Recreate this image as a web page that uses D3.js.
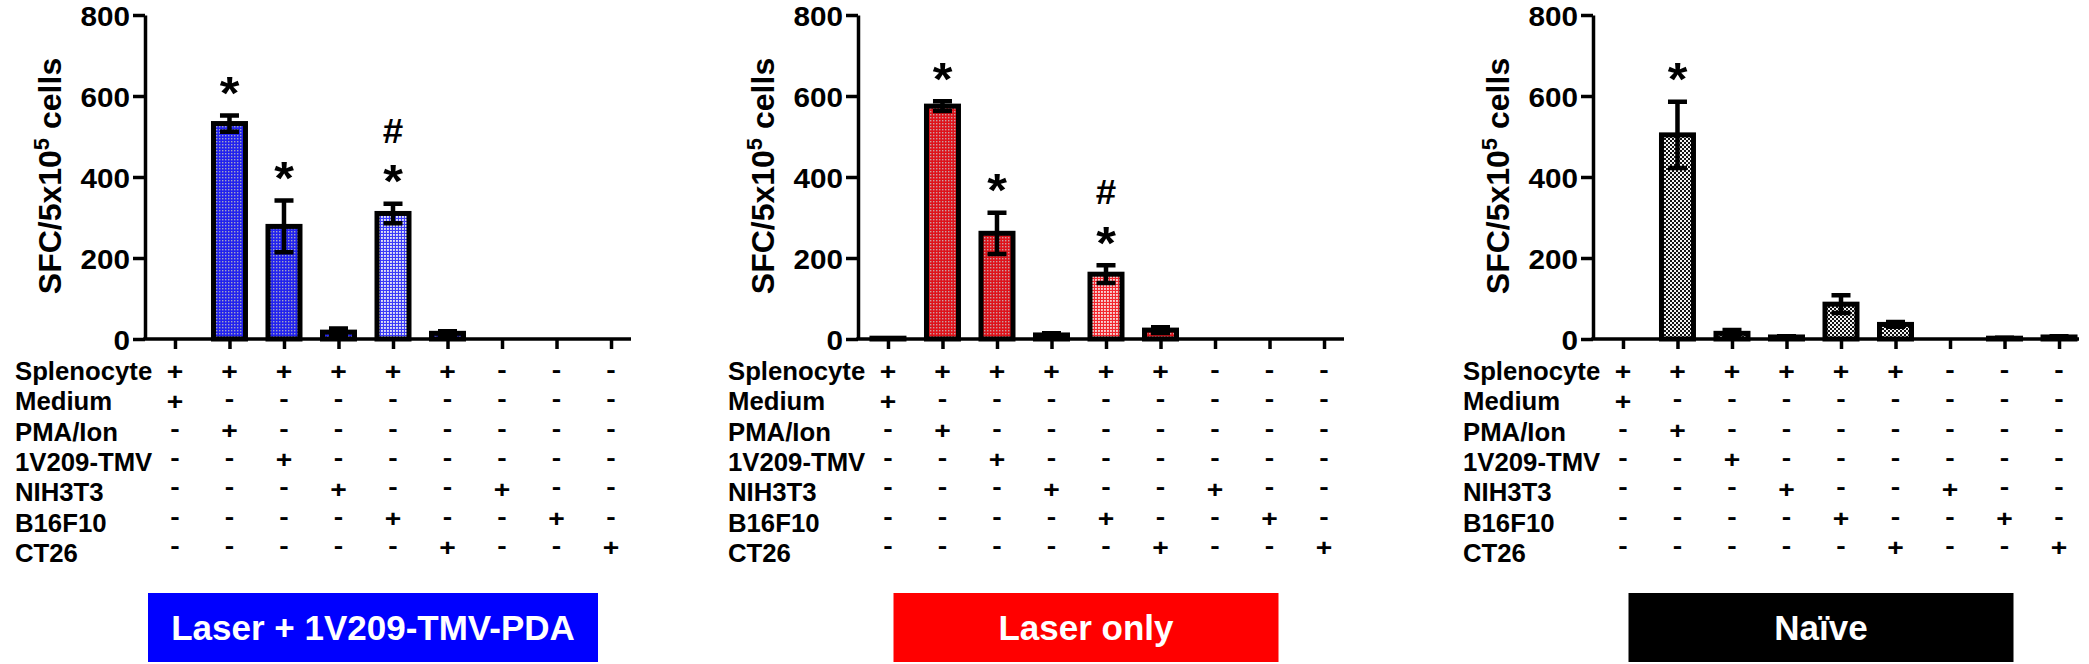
<!DOCTYPE html>
<html>
<head>
<meta charset="utf-8">
<script src="https://cdn.jsdelivr.net/npm/d3@7"></script>
<style>
  html, body { margin: 0; padding: 0; background: #ffffff; }
  svg { display: block; }
</style>
</head>
<body>
<svg id="chart" width="2089" height="664"></svg>
<script>
// ================= DATA =================
const categories = ["Medium", "PMA/Ion", "1V209-TMV", "NIH3T3", "B16F10", "CT26",
                    "NIH3T3 alone", "B16F10 alone", "CT26 alone"];

const groups = ["Laser + 1V209-TMV-PDA", "Laser only", "Na\u00efve"];

const yTicks = [0, 200, 400, 600, 800];

// SFC / 5x10^5 cells (mean) and error (SEM)
const valuesLaserPDA = [0, 532, 278, 17, 310, 14, 0, 0, 0];
const errorsLaserPDA = [0, 20, 64, 9, 24, 5, 0, 0, 0];
const sigLaserPDA    = ["", "*", "*", "", "#*", "", "", "", ""];

const valuesLaserOnly = [2, 575, 261, 10, 160, 22, 0, 0, 0];
const errorsLaserOnly = [0, 12, 51, 4, 22, 7, 0, 0, 0];
const sigLaserOnly    = ["", "*", "*", "", "#*", "", "", "", ""];

const valuesNaive = [0, 504, 14, 5, 86, 36, 0, 2, 5];
const errorsNaive = [0, 82, 8, 2, 22, 6, 0, 1, 2];
const sigNaive    = ["", "*", "", "", "", "", "", "", ""];

const rowLabels = ["Splenocyte", "Medium", "PMA/Ion", "1V209-TMV", "NIH3T3", "B16F10", "CT26"];
const rowSigns = [
  ["+", "+", "+", "+", "+", "+", "-", "-", "-"],
  ["+", "-", "-", "-", "-", "-", "-", "-", "-"],
  ["-", "+", "-", "-", "-", "-", "-", "-", "-"],
  ["-", "-", "+", "-", "-", "-", "-", "-", "-"],
  ["-", "-", "-", "+", "-", "-", "+", "-", "-"],
  ["-", "-", "-", "-", "+", "-", "-", "+", "-"],
  ["-", "-", "-", "-", "-", "+", "-", "-", "+"]
];

// ================= LAYOUT / STYLE =================
const FONT = "'Liberation Sans', Arial, Helvetica, sans-serif";
const panelX = [145, 858, 1593];     // y-axis position of each panel
const PW = 496;                      // x-axis length
const Y_ZERO = 339, Y_TOP = 15;
const BAR_W = 32, BAR_STROKE = 5;
const CAP_W = 19;
const boxColors = ["#0000ff", "#ff0000", "#000000"];
const boxWidths = [450, 385, 385];
const lightIndex = 4; // B16F10 column drawn with lighter pattern

const svg = d3.select("#chart");
svg.append("rect").attr("width", 2089).attr("height", 664).attr("fill", "#fff");
const defs = svg.append("defs");

function makePattern(id, tile, base, dot, rects) {
  const p = defs.append("pattern").attr("id", id)
    .attr("patternUnits", "userSpaceOnUse").attr("width", tile).attr("height", tile);
  p.append("rect").attr("width", tile).attr("height", tile).attr("fill", base);
  rects.forEach(r => p.append("rect").attr("x", r[0]).attr("y", r[1])
    .attr("width", r[2]).attr("height", r[3]).attr("fill", dot));
}
makePattern("blueDark", 3, "#2222ee", "#a2a2c4", [[0, 0, 1.4, 1.4]]);
makePattern("blueLight", 3, "#3a3af8", "#e2e2f4", [[0, 0, 1.9, 1.9]]);
makePattern("redDark", 3, "#de121a", "#c89ea2", [[0, 0, 1.4, 1.4]]);
makePattern("redLight", 3, "#f2262e", "#f8d2d4", [[0, 0, 1.9, 1.9]]);
makePattern("grayCheck", 4, "#121212", "#f2f2f2", [[0, 0, 2, 2], [2, 2, 2, 2]]);
const patterns = [["blueDark", "blueLight"], ["redDark", "redLight"], ["grayCheck", "grayCheck"]];

const panels = [
  { label: groups[0], values: valuesLaserPDA,  errors: errorsLaserPDA,  sig: sigLaserPDA },
  { label: groups[1], values: valuesLaserOnly, errors: errorsLaserOnly, sig: sigLaserOnly },
  { label: groups[2], values: valuesNaive,     errors: errorsNaive,     sig: sigNaive }
];

const y = d3.scaleLinear().domain([0, 800]).range([Y_ZERO, Y_TOP]);

function placeText(sel, x, yy, sx) {
  sel.attr("x", 0).attr("y", 0).attr("transform", `translate(${x},${yy}) scale(${sx},1)`);
}

panels.forEach((pd, pi) => {
  const ax = panelX[pi];
  const g = svg.append("g");
  const x = d3.scalePoint().domain(categories).range([ax, ax + PW]).padding(0.55);

  // bars
  const rows = categories.map((c, i) => ({ c, i, v: pd.values[i], e: pd.errors[i], s: pd.sig[i] }));
  g.selectAll("rect.bar").data(rows.filter(d => d.v > 0)).join("rect")
    .attr("class", "bar")
    .attr("x", d => x(d.c) - BAR_W / 2)
    .attr("width", BAR_W)
    .attr("y", d => y(d.v))
    .attr("height", d => y(0) - y(d.v))
    .attr("fill", d => `url(#${patterns[pi][d.i === lightIndex ? 1 : 0]})`)
    .attr("stroke", "#000").attr("stroke-width", BAR_STROKE);

  // error bars
  g.selectAll("path.err").data(rows.filter(d => d.e > 0)).join("path")
    .attr("class", "err")
    .attr("d", d => {
      const cx = x(d.c), yt = y(d.v + d.e), yb = y(Math.max(0, d.v - d.e));
      return `M${cx},${yb}V${yt}M${cx - CAP_W / 2},${yt}h${CAP_W}M${cx - CAP_W / 2},${yb}h${CAP_W}`;
    })
    .attr("fill", "none").attr("stroke", "#000").attr("stroke-width", 4.5);

  // significance marks
  rows.filter(d => d.s).forEach(d => {
    const cx = x(d.c), top = y(d.v + d.e);
    if (d.s.includes("*")) {
      const fs = 46, cy = top - 32;
      g.append("text").text("*").attr("font-family", FONT).attr("font-weight", "bold")
        .attr("font-size", fs).attr("text-anchor", "middle")
        .call(placeText, cx, cy + 0.56 * fs, 1.1);
    }
    if (d.s.includes("#")) {
      const fs = 35, cy = top - 73;
      g.append("text").text("#").attr("font-family", FONT).attr("font-weight", "bold")
        .attr("font-size", fs).attr("text-anchor", "middle")
        .call(placeText, cx, cy + 0.345 * fs, 1.05);
    }
  });

  // y axis
  const gy = g.append("g").attr("transform", `translate(${ax},0)`)
    .call(d3.axisLeft(y).tickValues(yTicks).tickSize(12).tickPadding(3).tickSizeOuter(0));
  gy.select(".domain").attr("stroke-width", 3.5).attr("stroke", "#000");
  gy.selectAll(".tick line").attr("stroke-width", 3.5).attr("stroke", "#000");
  gy.selectAll(".tick text")
    .attr("font-family", FONT).attr("font-weight", "bold").attr("font-size", 28).attr("fill", "#000")
    .attr("x", 0).attr("dy", "0.36em").attr("transform", "translate(-15,0) scale(1.06,1)");

  // x axis
  const gx = g.append("g").attr("transform", `translate(0,${Y_ZERO})`)
    .call(d3.axisBottom(x).tickSize(10).tickSizeOuter(0).tickFormat(""));
  gx.select(".domain").attr("stroke-width", 3.5).attr("stroke", "#000")
    .attr("d", `M${ax - 1.75},0H${ax + PW - 10}`);
  gx.selectAll(".tick line").attr("stroke-width", 3.5).attr("stroke", "#000");

  // y axis title
  const lab = g.append("text").attr("font-family", FONT).attr("font-weight", "bold")
    .attr("font-size", 32).attr("text-anchor", "middle").attr("fill", "#000")
    .attr("transform", `translate(${ax - 84},176) rotate(-90)`);
  lab.append("tspan").text("SFC/5x10");
  lab.append("tspan").text("5").attr("font-size", 22).attr("dy", -12);
  lab.append("tspan").text(" cells").attr("dy", 12);

  // condition table
  const firstCol = x(categories[0]);
  rowLabels.forEach((rl, ri) => {
    g.append("text").text(rl).attr("font-family", FONT).attr("font-weight", "bold")
      .attr("font-size", 25).attr("fill", "#000")
      .call(placeText, firstCol - 160, 380 + 30.3 * ri, 1.03);
    const cy = 372 + 29.3 * ri;
    categories.forEach((c, ci) => {
      const sgn = rowSigns[ri][ci];
      const fs = 24;
      g.append("text").text(sgn).attr("font-family", FONT).attr("font-weight", "bold")
        .attr("font-size", fs).attr("text-anchor", "middle").attr("fill", "#000")
        .call(placeText, x(c), cy + (sgn === "+" ? 0.35 : 0.25) * fs, 1.18);
    });
  });

  // group label box
  const bcx = ax + 228, bw = boxWidths[pi];
  g.append("rect").attr("x", bcx - bw / 2).attr("y", 593).attr("width", bw).attr("height", 69)
    .attr("fill", boxColors[pi]);
  g.append("text").text(pd.label).attr("font-family", FONT).attr("font-weight", "bold")
    .attr("font-size", 35).attr("fill", "#fff").attr("text-anchor", "middle")
    .attr("x", bcx).attr("y", 627 + 0.358 * 35);
});
</script>
</body>
</html>
